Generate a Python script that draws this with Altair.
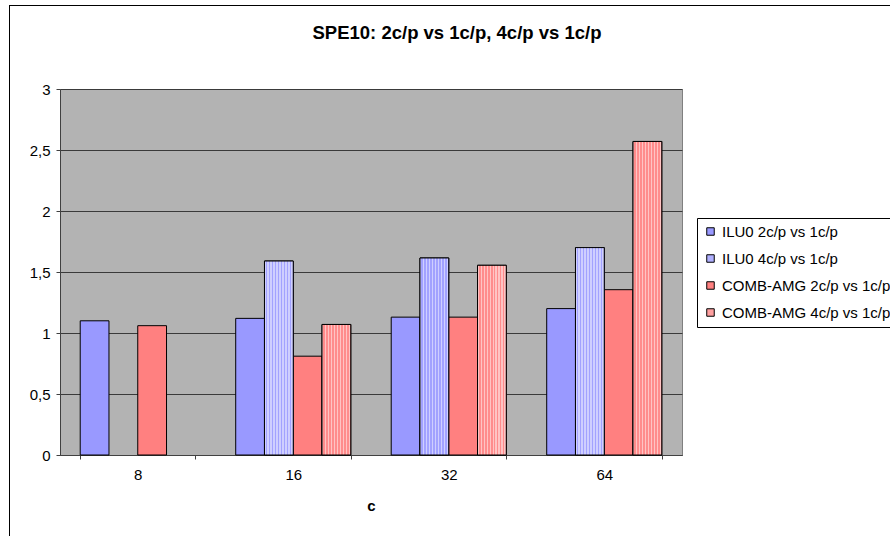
import altair as alt
import pandas as pd

# Speed-up ratios per core count c
cores = ["8", "16", "32", "64"]
series = [
    "ILU0 2c/p vs 1c/p",
    "ILU0 4c/p vs 1c/p",
    "COMB-AMG 2c/p vs 1c/p",
    "COMB-AMG 4c/p vs 1c/p",
]
ilu0_2c = [1.10, 1.12, 1.13, 1.20]
ilu0_4c = [None, 1.59, 1.615, 1.70]
comb_2c = [1.06, 0.81, 1.13, 1.355]
comb_4c = [None, 1.07, 1.555, 2.57]

rows = []
for name, vals in zip(series, [ilu0_2c, ilu0_4c, comb_2c, comb_4c]):
    for c, v in zip(cores, vals):
        if v is not None:
            rows.append({"c": c, "series": name, "value": v})
df = pd.DataFrame(rows)

BLUE, BLUE_LIGHT = "#9999ff", "#b0b0ff"
RED, RED_LIGHT = "#ff8080", "#ffa0a0"


def dotted(base, light, periods=9.6):
    """Fine stippled stripes used for the 4c/p bars."""
    stops = []
    for i in range(int(periods) + 1):
        a = i / periods
        if a >= 1:
            break
        b = min((i + 0.4) / periods, 1)
        c = min((i + 1) / periods, 1)
        stops += [
            alt.GradientStop(color=light, offset=a),
            alt.GradientStop(color=light, offset=b),
            alt.GradientStop(color=base, offset=b),
            alt.GradientStop(color=base, offset=c),
        ]
    return alt.Gradient(gradient="linear", stops=stops, x1=0, x2=1, y1=0, y2=0)


x_enc = alt.X(
    "c:N",
    sort=cores,
    title="c",
    scale=alt.Scale(paddingInner=0.26, paddingOuter=0.13),
    axis=alt.Axis(
        labelAngle=0,
        tickBand="extent",
        tickSize=4,
        labelPadding=8,
        titlePadding=16,
        labelFontSize=15,
        titleFontSize=15,
        titleFontWeight="bold",
        domainColor="#404040",
        tickColor="#404040",
        labelColor="black",
        titleColor="black",
        grid=False,
    ),
)
off_enc = alt.XOffset("series:N", sort=series, scale=alt.Scale(domain=series, paddingInner=0))
y_enc = alt.Y(
    "value:Q",
    title=None,
    scale=alt.Scale(domain=[0, 3], nice=False),
    axis=alt.Axis(
        values=[0, 0.5, 1, 1.5, 2, 2.5, 3],
        labelExpr="replace(toString(datum.value), '.', ',')",
        tickSize=4,
        labelPadding=6,
        labelFontSize=15,
        labelColor="black",
        domainColor="#404040",
        tickColor="#404040",
        gridColor="#3a3a3a",
        gridWidth=1,
    ),
)

bars = alt.Chart(df).mark_bar(stroke="black", strokeWidth=1).encode(
    x=x_enc,
    xOffset=off_enc,
    y=y_enc,
    color=alt.Color(
        "series:N",
        sort=series,
        scale=alt.Scale(domain=series, range=[BLUE, BLUE_LIGHT, RED, RED_LIGHT]),
        legend=alt.Legend(
            title=None,
            orient="none",
            legendX=637,
            legendY=129,
            symbolType="square",
            symbolSize=56,
            symbolStrokeColor="black",
            symbolStrokeWidth=1,
            symbolOpacity=1,
            labelFontSize=15,
            labelColor="black",
            labelOffset=4,
            rowPadding=11,
            padding=6,
            strokeColor="black",
            fillColor="white",
            labelLimit=400,
        ),
    ),
)

ilu_4c_layer = alt.Chart(df).transform_filter(
    alt.datum.series == series[1]
).mark_bar(stroke="black", strokeWidth=1, color=dotted("#a2a2ff", "#cfcfff")).encode(
    x=x_enc, xOffset=off_enc, y=y_enc
)
comb_4c_layer = alt.Chart(df).transform_filter(
    alt.datum.series == series[3]
).mark_bar(stroke="black", strokeWidth=1, color=dotted("#ff8c8c", "#ffc4c4")).encode(
    x=x_enc, xOffset=off_enc, y=y_enc
)

# chart frame (left and top edges of the outer border)
frame_left = alt.Chart(df).mark_rule(color="black", strokeWidth=1).encode(
    x=alt.value(-50.5), y=alt.value(-83.5), y2=alt.value(460)
)
frame_top = alt.Chart(df).mark_rule(color="black", strokeWidth=1).encode(
    x=alt.value(-50.5), x2=alt.value(850), y=alt.value(-83.5)
)

chart = (
    alt.layer(bars, ilu_4c_layer, comb_4c_layer, frame_left, frame_top)
    .properties(
        width=622,
        height=366,
        title=alt.TitleParams(
            "SPE10: 2c/p vs 1c/p, 4c/p vs 1c/p",
            fontSize=18.5,
            fontWeight="bold",
            color="black",
            anchor="middle",
            dx=86,
            dy=37,
            offset=0,
        ),
        autosize=alt.AutoSizeParams(type="none"),
        padding={"left": 60, "top": 89, "right": 208, "bottom": 81},
    )
    .configure(font="Liberation Sans", background="white")
    .configure_view(fill="#b3b3b3", stroke="#808080", strokeWidth=1)
)

chart.save("out.html", embed_options={"renderer": "svg", "actions": False})
